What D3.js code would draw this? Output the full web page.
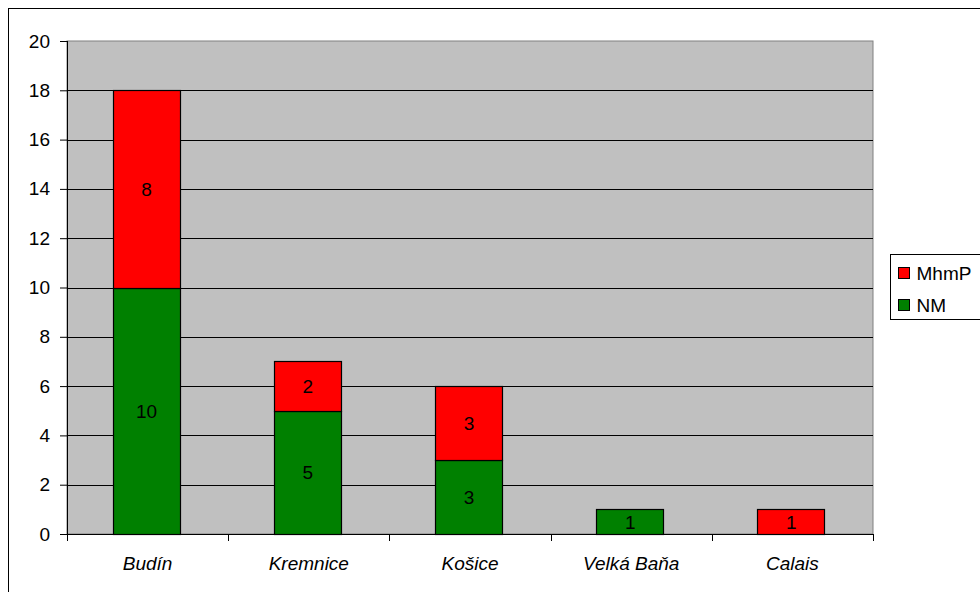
<!DOCTYPE html>
<html>
<head>
<meta charset="utf-8">
<script src="https://cdn.jsdelivr.net/npm/d3@7"></script>
<style>
  body { margin: 0; background: #fff; }
  svg { display: block; font-family: "Liberation Sans", Arial, sans-serif; }
</style>
</head>
<body>
<svg id="chart" width="980" height="592"></svg>
<script>
const categories = ["Budín", "Kremnice", "Košice", "Velká Baňa", "Calais"];
const nmValues = [10, 5, 3, 1, 0];
const mhmpValues = [8, 2, 3, 0, 1];
const yTicks = [0, 2, 4, 6, 8, 10, 12, 14, 16, 18, 20];
const seriesNames = ["MhmP", "NM"];
const seriesColors = { NM: "#008000", MhmP: "#ff0000" };

const svg = d3.select("#chart");
const margin = { top: 41, right: 107, bottom: 58, left: 67 };
const width = 980 - margin.left - margin.right;
const height = 592 - margin.top - margin.bottom;
const fs = 19;

// outer chart border
svg.append("rect")
    .attr("x", 8.5).attr("y", 8.5)
    .attr("width", 980).attr("height", 600)
    .attr("fill", "none").attr("stroke", "#000").attr("stroke-width", 1);

const chart = svg.append("g")
    .attr("transform", `translate(${margin.left}, ${margin.top})`);

const x = d3.scaleBand()
    .domain(categories)
    .range([0, width])
    .paddingInner(0.585)
    .paddingOuter(0.2925);

const y = d3.scaleLinear()
    .domain([0, 20])
    .range([height, 0]);

// plot background
chart.append("rect")
    .attr("width", width).attr("height", height)
    .attr("fill", "#c0c0c0")
    .attr("stroke", "#808080");

// gridlines
chart.append("g")
    .selectAll("line")
    .data(yTicks.filter(d => d > 0 && d < 20))
    .join("line")
    .attr("x1", 0).attr("x2", width)
    .attr("y1", d => Math.round(y(d)) + 0.5)
    .attr("y2", d => Math.round(y(d)) + 0.5)
    .attr("stroke", "#000");

// stacked bars
const rows = categories.map((c, i) => ({ cat: c, NM: nmValues[i], MhmP: mhmpValues[i] }));
const stacked = d3.stack().keys(["NM", "MhmP"])(rows);

chart.append("g")
    .selectAll("g")
    .data(stacked)
    .join("g")
    .attr("fill", s => seriesColors[s.key])
    .selectAll("rect")
    .data(s => s.filter(d => d[1] - d[0] > 0))
    .join("rect")
    .attr("x", d => Math.floor(x(d.data.cat)) - 0.5)
    .attr("y", d => Math.round(y(d[1])) + 0.5)
    .attr("width", Math.round(x.bandwidth()))
    .attr("height", d => Math.round(y(d[0])) - Math.round(y(d[1])))
    .attr("stroke", "#000")
    .attr("stroke-width", 1.2);

// value labels
stacked.forEach(s => {
    chart.append("g")
        .selectAll("text")
        .data(s.filter(d => d[1] - d[0] > 0))
        .join("text")
        .attr("x", d => x(d.data.cat) + x.bandwidth() / 2 - 1)
        .attr("y", d => y((d[0] + d[1]) / 2) + 7)
        .attr("text-anchor", "middle")
        .attr("font-size", fs)
        .text(d => d[1] - d[0]);
});

// y axis
const yAxis = chart.append("g")
    .call(d3.axisLeft(y).tickValues(yTicks).tickSize(7).tickPadding(10).tickFormat(d3.format("d")));
yAxis.selectAll("text").attr("font-size", fs).attr("font-family", "Liberation Sans, Arial, sans-serif").attr("fill", "#000");
yAxis.select(".domain").attr("d", `M0.5,0V${height}`);

// x axis
const xAxis = chart.append("g")
    .attr("transform", `translate(0, ${height})`)
    .call(d3.axisBottom(x).tickSize(0).tickPadding(23));
xAxis.select(".domain").attr("d", `M0,0.5H${width}`);
xAxis.selectAll("text")
    .attr("font-size", fs)
    .attr("font-style", "italic")
    .attr("font-family", "Liberation Sans, Arial, sans-serif")
    .attr("fill", "#000");
// ticks between categories
xAxis.append("g")
    .selectAll("line")
    .data(d3.range(categories.length + 1))
    .join("line")
    .attr("x1", i => Math.round(i * width / categories.length) + 0.5)
    .attr("x2", i => Math.round(i * width / categories.length) + 0.5)
    .attr("y1", 0).attr("y2", 7)
    .attr("stroke", "#000");

// legend
const legend = svg.append("g").attr("transform", "translate(890.5, 254.5)");
legend.append("rect")
    .attr("width", 92).attr("height", 65)
    .attr("fill", "#fff").attr("stroke", "#000");
seriesNames.forEach((name, i) => {
    const row = legend.append("g").attr("transform", `translate(8, ${13 + i * 32})`);
    row.append("rect")
        .attr("width", 11).attr("height", 11)
        .attr("fill", seriesColors[name]).attr("stroke", "#000");
    row.append("text")
        .attr("x", 18).attr("y", 12)
        .attr("font-size", fs)
        .text(name);
});
</script>
</body>
</html>
